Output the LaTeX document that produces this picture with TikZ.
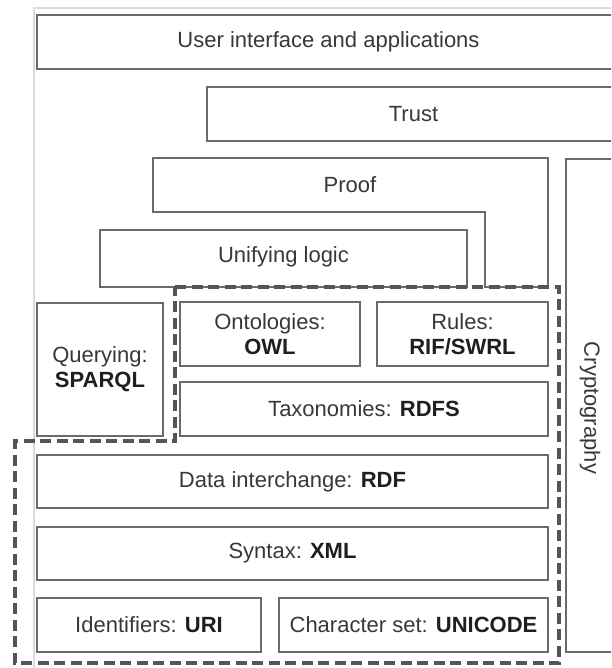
\documentclass[tikz,border=0pt]{standalone}
\usepackage{fontspec}
\setmainfont{Liberation Sans}
\usetikzlibrary{positioning}
\definecolor{boxline}{HTML}{6A6A6A}
\definecolor{dashline}{HTML}{555555}
\definecolor{txt}{HTML}{383838}
\definecolor{frameline}{HTML}{DADADA}
\tikzset{
  layer/.style={draw=boxline, line width=2pt, fill=white, inner sep=0pt, outer sep=0pt,
    font=\fontsize{22}{26}\selectfont, text=txt, align=center, anchor=north west},
  lbl/.style={font=\fontsize{22}{26}\selectfont, text=txt, align=center, inner sep=0pt},
  stack/.style={draw=dashline, line width=3.6pt, dash pattern=on 11pt off 5.5pt},
  outerframe/.style={draw=frameline, line width=1.5pt}
}
\newcommand{\kw}[1]{\textbf{\color{black!88}#1}}
\begin{document}
\begin{tikzpicture}[x=1pt,y=-1pt]
\useasboundingbox (0,0) rectangle (611,668);
\clip (0,0) rectangle (611,668);
\fill[white] (0,0) rectangle (611,668);

% light outer frame
\coordinate (ftop) at (34,8);
\coordinate (fright) at (640,8);
\coordinate (fbottom) at (34,680);
\draw[outerframe] (fright) -- (ftop) -- (fbottom);

% top layers
\node[layer, minimum width=583pt, minimum height=54pt] (ui) at (37,15) {};
\node[lbl] (uit) at (328.5,42) {User interface and applications};
\node[layer, minimum width=413pt, minimum height=54pt] (trust) at (207,87) {};
\node[lbl] (trustt) at (413.5,114) {Trust};

% proof: L-shaped layer reaching down to the stack
\draw[draw=boxline, line width=2pt, fill=white]
  (153,158) -- (548,158) -- (548,287) -- (485,287) -- (485,212) -- (153,212) -- cycle;
\node[lbl] (proof) at (350,185) {Proof};

\node[layer, minimum width=367pt, minimum height=57pt] (logic) at (100,230) {};
\node[lbl] (logict) at (283.5,257) {Unifying logic};

% cryptography column
\node[layer, minimum width=54pt, minimum height=493pt] (crypto) at (566,159) {};
\node[lbl, rotate=-90] (cryptot) at (590,408) {Cryptography};

% querying
\node[layer, minimum width=126pt, minimum height=133pt] (query) at (37,303)
  {Querying:\\[-1pt]\kw{SPARQL}};

% ontology stack
\node[layer, minimum width=180pt, minimum height=64pt] (owl) at (180,302)
  {Ontologies:\\[-1pt]\kw{OWL}};
\node[layer, minimum width=171pt, minimum height=64pt] (rules) at (377,302)
  {Rules:\\[-1pt]\kw{RIF/SWRL}};
\node[layer, minimum width=368pt, minimum height=54pt] (rdfs) at (180,382)
  {Taxonomies: \kw{RDFS}};
\node[layer, minimum width=511pt, minimum height=53pt] (rdf) at (37,455)
  {Data interchange: \kw{RDF}};
\node[layer, minimum width=511pt, minimum height=53pt] (xml) at (37,527)
  {Syntax: \kw{XML}};
\node[layer, minimum width=224pt, minimum height=54pt] (uri) at (37,598)
  {Identifiers: \kw{URI}};
\node[layer, minimum width=269pt, minimum height=54pt] (unicode) at (279,598)
  {Character set: \kw{UNICODE}};

% dashed outline of the standardised stack
\coordinate (d1) at (175,287);
\coordinate (d2) at (559,287);
\coordinate (d3) at (559,663);
\coordinate (d4) at (15,663);
\coordinate (d5) at (15,441);
\coordinate (d6) at (175,441);
\draw[stack] (d1) -- (d2) -- (d3) -- (d4) -- (d5) -- (d6) -- cycle;
\end{tikzpicture}
\end{document}
